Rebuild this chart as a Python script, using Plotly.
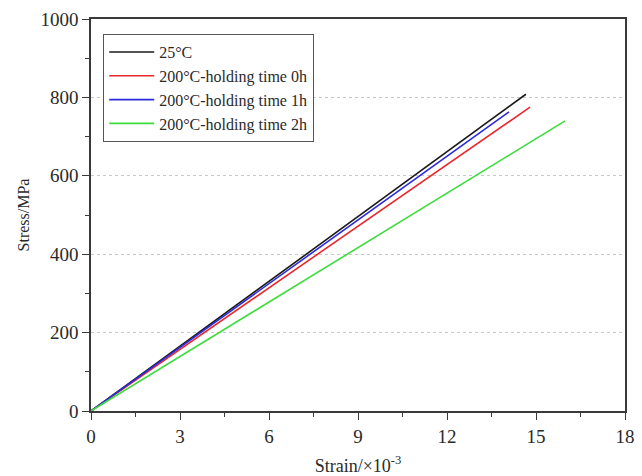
import plotly.graph_objects as go

# Stress-strain curves (elastic region), strain in units of 1e-3
series_names = ["25°C", "200°C-holding time 0h", "200°C-holding time 1h", "200°C-holding time 2h"]
series_colors = ["#1a1a1a", "#e8282b", "#2b2bdc", "#3ddc3d"]
strain_25c = [0, 14.66]
stress_25c = [0, 808]
strain_0h = [0, 14.80]
stress_0h = [0, 775]
strain_1h = [0, 14.09]
stress_1h = [0, 763]
strain_2h = [0, 15.98]
stress_2h = [0, 740]

x_ticks = [0, 3, 6, 9, 12, 15, 18]
y_ticks = [0, 200, 400, 600, 800, 1000]

fig = go.Figure()
for name, color, xs, ys in zip(
    series_names,
    series_colors,
    [strain_25c, strain_0h, strain_1h, strain_2h],
    [stress_25c, stress_0h, stress_1h, stress_2h],
):
    fig.add_trace(go.Scatter(x=xs, y=ys, mode="lines", name=name,
                             line=dict(color=color, width=1.6)))

font_family = "Liberation Serif"
text_color = "#2a2a2a"
axis_common = dict(
    showline=True, linecolor="#3a3a3a", linewidth=1.5, mirror=True,
    ticks="outside", ticklen=7, tickwidth=1.3, tickcolor="#3a3a3a",
    gridcolor="#c8c8c8", griddash="dot", gridwidth=1,
    zeroline=False, automargin=False,
    tickfont=dict(family=font_family, size=19, color=text_color),
)

fig.update_xaxes(
    range=[0, 18], tickvals=x_ticks, showgrid=False,
    minor=dict(ticks="outside", ticklen=4, tickcolor="#3a3a3a", dtick=1.5, showgrid=False),
    title=dict(text="Strain/×10<sup>-3</sup>", font=dict(family=font_family, size=18, color=text_color), standoff=15),
    **axis_common,
)
fig.update_yaxes(
    range=[0, 1000], tickvals=y_ticks, showgrid=True,
    minor=dict(ticks="outside", ticklen=4, tickcolor="#3a3a3a", dtick=100, showgrid=False),
    title=dict(text="Stress/MPa", font=dict(family=font_family, size=16, color=text_color), standoff=7),
    **axis_common,
)

fig.update_layout(
    width=642, height=476,
    margin=dict(l=91, r=17, t=19, b=65),
    paper_bgcolor="white", plot_bgcolor="white",
    font=dict(family=font_family, color=text_color),
    legend=dict(
        x=0.0225, y=0.962, xanchor="left", yanchor="top",
        bgcolor="white", bordercolor="#555", borderwidth=1.2,
        font=dict(family=font_family, size=16, color=text_color),
        tracegroupgap=0, itemwidth=45,
    ),
)

fig.write_html("out.html")
